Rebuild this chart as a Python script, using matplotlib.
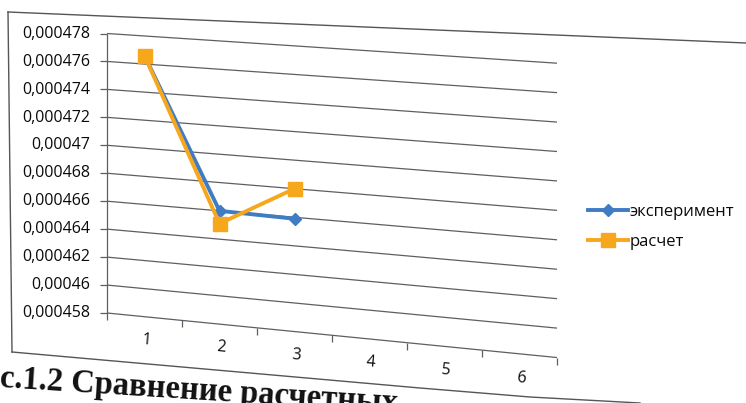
import numpy as np
import matplotlib
matplotlib.use("Agg")
import matplotlib.pyplot as plt
from matplotlib.transforms import Transform, Affine2D, IdentityTransform
from matplotlib.lines import Line2D

# ---- data -------------------------------------------------------------
categories = [1, 2, 3, 4, 5, 6]
experiment = [0.0004766, 0.0004660, 0.0004659]
calculation = [0.0004766, 0.0004651, 0.0004680]
series_names = ["эксперимент", "расчет"]
y_ticks = [0.000458, 0.000460, 0.000462, 0.000464, 0.000466, 0.000468,
           0.000470, 0.000472, 0.000474, 0.000476, 0.000478]
y_tick_labels = ["0,000458", "0,00046", "0,000462", "0,000464", "0,000466",
                 "0,000468", "0,00047", "0,000472", "0,000474", "0,000476",
                 "0,000478"]
caption = "с.1.2 Сравнение расчетных"

W, H, DPI = 746, 403, 100
BLUE = "#3f7cc3"
ORANGE = "#f7a71c"
GRID = "#5e5e64"
TEXT = "#0a0a0a"
UI_FONT = ["Open Sans", "DejaVu Sans"]

plt.rcParams["font.family"] = UI_FONT


class PageBend(Transform):
    """Display-space bend: rows drop further the more to the right they sit,
    and the drop grows towards the bottom of the page."""
    input_dims = output_dims = 2
    is_separable = False
    has_inverse = False

    def __init__(self, x0, row0, s0, ds):
        super().__init__()
        self.x0, self.row0, self.s0, self.ds = x0, row0, s0, ds

    def transform_non_affine(self, values):
        v = np.asarray(values, dtype=float)
        one = v.ndim == 1
        v = v.reshape(-1, 2)
        x, y = v[:, 0], v[:, 1]
        row = H - y
        drop = (x - self.x0) * (self.s0 + self.ds * (row - self.row0))
        out = np.column_stack([x, y - drop])
        return out[0] if one else out


bend = PageBend(x0=107, row0=33.5, s0=0.066, ds=0.000118)

fig = plt.figure(figsize=(W / DPI, H / DPI), dpi=DPI)
fig.patch.set_facecolor("white")

left, right, top, bottom = 107, 557, 33.5, 313
ax = fig.add_axes([left / W, (H - bottom) / H, (right - left) / W, (bottom - top) / H])
ax.set_xlim(0.5, len(categories) + 0.5)
ax.set_ylim(y_ticks[0], y_ticks[-1])
ax.set_axis_off()

T = ax.transData + bend

# horizontal gridlines and axis lines
ax.hlines(y_ticks, 0.5, len(categories) + 0.5, colors=GRID, linewidth=0.9,
          transform=T, clip_on=False, zorder=1)
ax.vlines(0.5, y_ticks[0], y_ticks[-1], colors=GRID, linewidth=0.9,
          transform=T, clip_on=False, zorder=1)

# tick marks
bounds = np.arange(0.5, len(categories) + 1.0, 1.0)
ax.plot(bounds, [y_ticks[0]] * len(bounds), ls="none", marker=3, ms=5, mew=0.9,
        color=GRID, transform=T, clip_on=False)
ax.plot([0.5] * len(y_ticks), y_ticks, ls="none", marker=0, ms=5, mew=0.9,
        color=GRID, transform=T, clip_on=False)

# tick labels
ylab_T = ax.transData + Affine2D().translate(-17, -1.5) + bend
for v, lab in zip(y_ticks, y_tick_labels):
    ax.text(0.5, v, lab, transform=ylab_T, ha="right", va="center",
            fontsize=11.5, color=TEXT)
xlab_T = ax.transData + Affine2D().translate(1.5, -23) + bend
for c in categories:
    ax.text(c, y_ticks[0], str(c), transform=xlab_T, ha="center", va="center",
            fontsize=11.5, color=TEXT, rotation=-5)

# series
x_exp = categories[:len(experiment)]
x_calc = categories[:len(calculation)]
l_exp, = ax.plot(x_exp, experiment, color=BLUE, lw=2.8, marker="D", ms=6.5,
                 mfc=BLUE, mec=BLUE, transform=T, clip_on=False, zorder=3,
                 label=series_names[0])
l_calc, = ax.plot(x_calc, calculation, color=ORANGE, lw=2.8, marker="s", ms=9.5,
                  mfc=ORANGE, mec=ORANGE, transform=T, clip_on=False, zorder=4,
                  label=series_names[1])

leg = fig.legend(handles=[l_exp, l_calc], labels=series_names, loc="center left",
                 bbox_to_anchor=(580 / W, 1 - 227 / H), frameon=False, fontsize=12,
                 handlelength=2.4, handletextpad=0.1, labelspacing=0.85,
                 borderpad=0.0)
for t in leg.get_texts():
    t.set_color(TEXT)

# chart area border (bent with the page)
px = IdentityTransform()
border = [
    ([8, 746], [12, 43]),
    ([8, 12], [12, 352]),
    ([12, 420, 530, 640], [352, 388, 397, 403]),
]
for xs, rows in border:
    fig.add_artist(Line2D(xs, [H - r for r in rows], transform=px,
                          color="#55555a", linewidth=1.0))

# figure caption
fig.text(-1, 16, caption, transform=px, ha="left", va="baseline",
         rotation=-3.6, rotation_mode="anchor", fontsize=23.5, fontweight="bold",
         family=["Liberation Serif", "DejaVu Serif"], color="#111111")

fig.savefig("out.png", dpi=DPI, facecolor="white")
